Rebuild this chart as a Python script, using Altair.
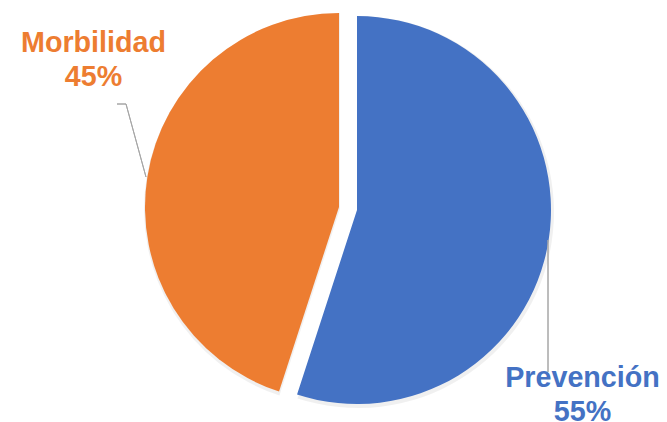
import altair as alt
import pandas as pd

categories = ["Prevención", "Morbilidad"]
values = [55, 45]
colors = ["#4472C4", "#ED7D31"]

df = pd.DataFrame({"cat": categories, "value": values, "order": [0, 1]})

W, H = 651, 414
R = 194

base = alt.Chart(df).transform_stack(
    stack="value", groupby=[], sort=[alt.SortField("order")], as_=["v0", "v1"]
).transform_calculate(
    label="datum.cat + '\\n' + datum.value + '%'"
)

theta_scale = alt.Scale(domain=[0, 100], range=[0, 6.283185307])
color_scale = alt.Scale(domain=categories, range=colors)

# exploded slice centres (chart coords)
centers = {"Prevención": (349, 202), "Morbilidad": (331, 199)}

layers = []
for cat in categories:
    cx, cy = centers[cat]
    shadow = base.transform_filter(alt.datum.cat == cat).mark_arc(
        radius=R + 2, color="#000000", opacity=0.06
    ).encode(
        theta=alt.Theta("v0:Q", scale=theta_scale),
        theta2="v1:Q",
        x=alt.value(cx + 1),
        y=alt.value(cy + 2),
    )
    arc = base.transform_filter(alt.datum.cat == cat).mark_arc(radius=R).encode(
        theta=alt.Theta("v0:Q", scale=theta_scale),
        theta2="v1:Q",
        color=alt.Color("cat:N", scale=color_scale, legend=None),
        x=alt.value(cx),
        y=alt.value(cy),
    )
    layers += [shadow, arc]

# leader lines
lead1a = alt.Chart(df).mark_rule(color="#A6A6A6", strokeWidth=1).encode(
    x=alt.value(109), x2=alt.value(118), y=alt.value(96), y2=alt.value(96)
)
lead1b = alt.Chart(df).mark_rule(color="#A6A6A6", strokeWidth=1).encode(
    x=alt.value(118), x2=alt.value(138), y=alt.value(96), y2=alt.value(169)
)
lead2 = alt.Chart(df).mark_rule(color="#A6A6A6", strokeWidth=1).encode(
    x=alt.value(540), x2=alt.value(540), y=alt.value(232), y2=alt.value(364)
)

label_pos = {"Morbilidad": (85.5, 35), "Prevención": (574.5, 370)}
texts = []
for cat in categories:
    lx, ly = label_pos[cat]
    t = base.transform_filter(alt.datum.cat == cat).mark_text(
        font="Liberation Sans", fontWeight="bold", fontSize=28.7,
        lineBreak="\n", lineHeight=34, align="center", baseline="middle"
    ).encode(
        text="label:N",
        color=alt.Color("cat:N", scale=color_scale, legend=None),
        x=alt.value(lx),
        y=alt.value(ly),
    )
    texts.append(t)

chart = alt.layer(*layers, lead1a, lead1b, lead2, *texts).properties(
    width=W, height=H, padding=0, autosize=alt.AutoSizeParams(type="none")
).configure_view(stroke=None)

chart.save("out.html", embed_options={"renderer": "svg", "actions": False})
